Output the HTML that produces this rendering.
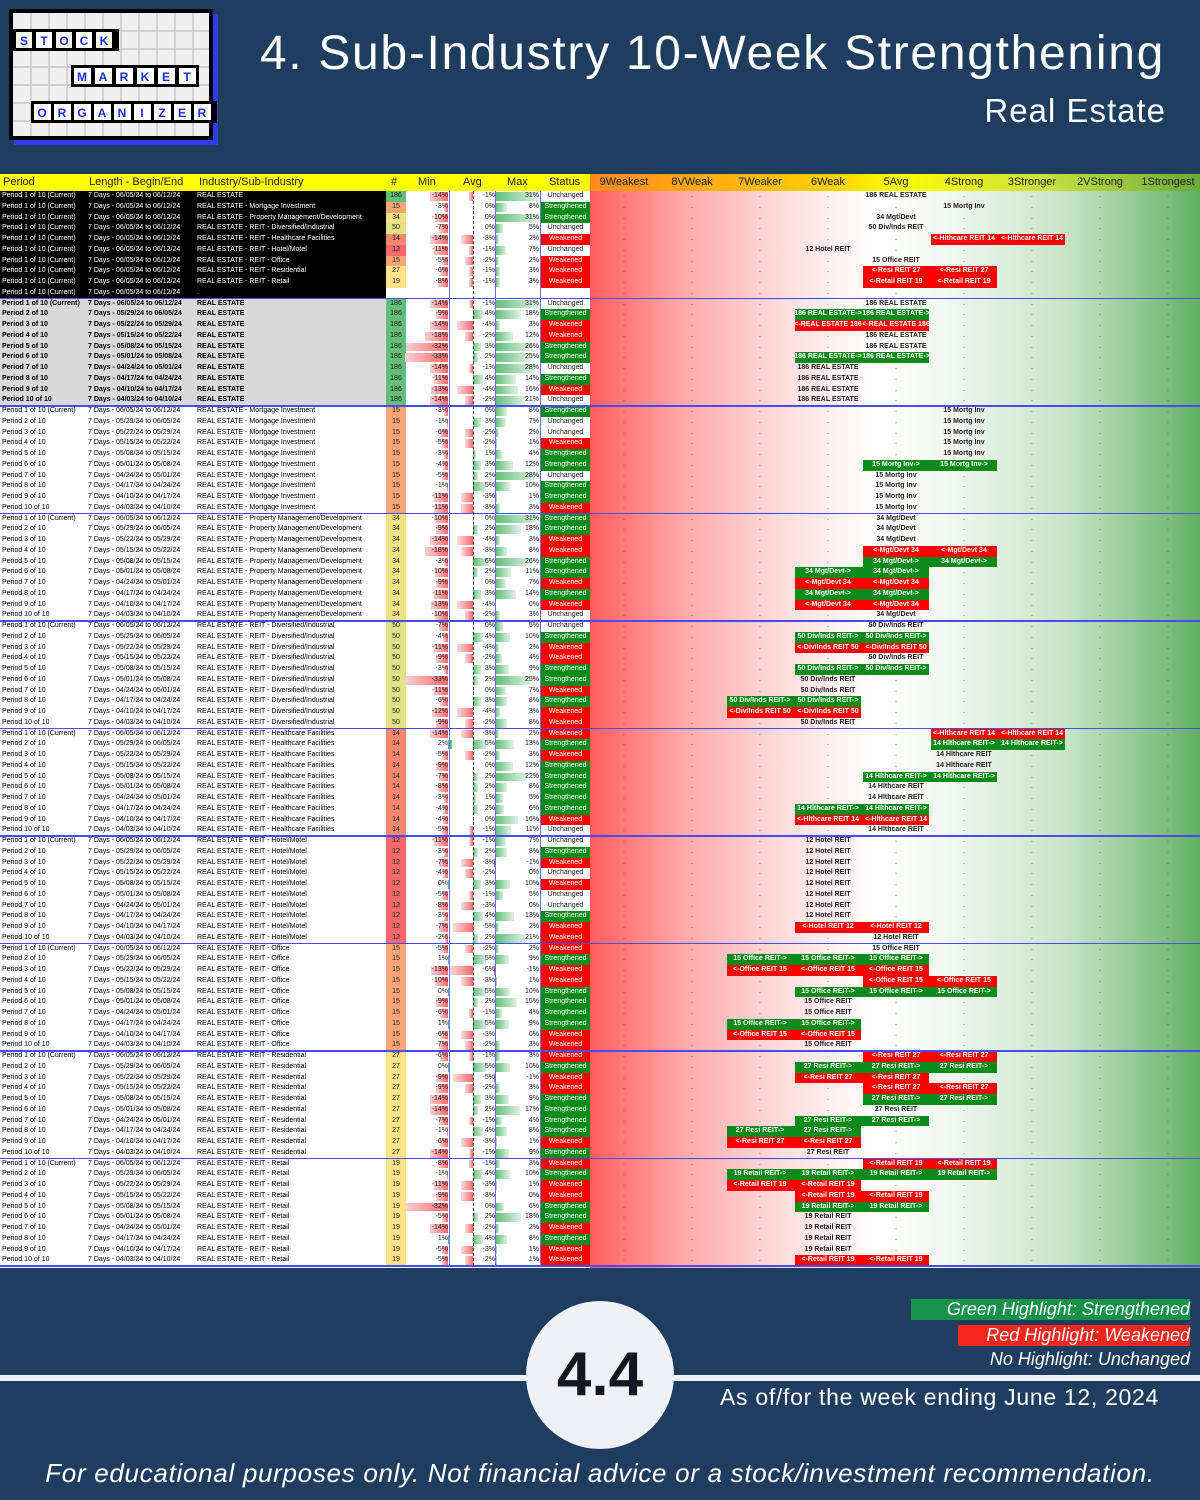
<!DOCTYPE html>
<html><head><meta charset="utf-8">
<style>
*{margin:0;padding:0;box-sizing:border-box}
body{width:1200px;height:1500px;background:#1f3d5e;position:relative;overflow:hidden;font-family:"Liberation Sans",sans-serif}
.abs{position:absolute}
#tbl{position:absolute;left:0;top:174px;width:1200px;height:1094px;background:#fff}
.c{position:absolute;font-size:7px;line-height:10.75px;white-space:nowrap;overflow:hidden}
.h{position:absolute;top:0;height:17px;line-height:17px;font-size:11px;color:#222}
</style></head><body>
<div class="abs" style="left:9px;top:9px;width:204px;height:131px;">
<svg width="215" height="140" viewBox="0 0 215 140" style="position:absolute;left:0;top:0">
<rect x="5" y="5" width="204" height="131" fill="#2f3cf0"/>
<rect x="0" y="0" width="204" height="131" fill="#000"/>
<rect x="4" y="4" width="196" height="123" fill="#f0f0f0"/>
<g stroke="#c8c8c8" stroke-width="1.5">
<line x1="4" y1="22" x2="200" y2="22"/><line x1="4" y1="40" x2="200" y2="40"/><line x1="4" y1="58" x2="200" y2="58"/><line x1="4" y1="76" x2="200" y2="76"/><line x1="4" y1="94" x2="200" y2="94"/><line x1="4" y1="112" x2="200" y2="112"/>
<line x1="22" y1="4" x2="22" y2="127"/><line x1="40" y1="4" x2="40" y2="127"/><line x1="58" y1="4" x2="58" y2="127"/><line x1="76" y1="4" x2="76" y2="127"/><line x1="94" y1="4" x2="94" y2="127"/><line x1="112" y1="4" x2="112" y2="127"/><line x1="130" y1="4" x2="130" y2="127"/><line x1="148" y1="4" x2="148" y2="127"/><line x1="166" y1="4" x2="166" y2="127"/><line x1="184" y1="4" x2="184" y2="127"/>
</g>
<rect x="4" y="20" width="106" height="22" fill="#000"/>
<rect x="62" y="56" width="128" height="22" fill="#000"/>
<rect x="22" y="92" width="186" height="22" fill="#000"/>
<g font-family="Liberation Sans" font-size="12" fill="#1a2fe0" text-anchor="middle" font-weight="bold">
<g fill="#fff"><rect x="7" y="23" width="16" height="16"/><rect x="27" y="23" width="16" height="16"/><rect x="47" y="23" width="16" height="16"/><rect x="67" y="23" width="16" height="16"/><rect x="87" y="23" width="16" height="16"/>
<rect x="65" y="59" width="17" height="16"/><rect x="86" y="59" width="17" height="16"/><rect x="107" y="59" width="17" height="16"/><rect x="128" y="59" width="17" height="16"/><rect x="149" y="59" width="17" height="16"/><rect x="170" y="59" width="17" height="16"/>
<rect x="25" y="95" width="17" height="16"/><rect x="45" y="95" width="17" height="16"/><rect x="65" y="95" width="17" height="16"/><rect x="85" y="95" width="17" height="16"/><rect x="105" y="95" width="17" height="16"/><rect x="125" y="95" width="17" height="16"/><rect x="145" y="95" width="17" height="16"/><rect x="165" y="95" width="17" height="16"/><rect x="185" y="95" width="17" height="16"/></g>
<text x="15" y="36">S</text><text x="35" y="36">T</text><text x="55" y="36">O</text><text x="75" y="36">C</text><text x="95" y="36">K</text>
<text x="73" y="72">M</text><text x="94" y="72">A</text><text x="115" y="72">R</text><text x="136" y="72">K</text><text x="157" y="72">E</text><text x="178" y="72">T</text>
<text x="33" y="108">O</text><text x="53" y="108">R</text><text x="73" y="108">G</text><text x="93" y="108">A</text><text x="113" y="108">N</text><text x="133" y="108">I</text><text x="153" y="108">Z</text><text x="173" y="108">E</text><text x="193" y="108">R</text>
</g></svg></div>
<div class="abs" style="right:35px;top:26px;font-size:48px;letter-spacing:1.7px;color:#fff;white-space:nowrap">4. Sub-Industry 10-Week Strengthening</div>
<div class="abs" style="right:34px;top:92px;font-size:33px;letter-spacing:1px;color:#fff;white-space:nowrap">Real Estate</div>

<div id="tbl">
 <div class="abs" style="left:0;top:0;width:590px;height:17px;background:#ffff00"></div>
 <div class="abs" style="left:590px;top:0;width:610px;height:17px;background:linear-gradient(to right,#ff8a1e,#ffd200 40%,#ffff00 50%,#c8e040 75%,#6aaa3a)"></div>
 <div class="abs" style="left:590px;top:17px;width:610px;height:1077px;background:linear-gradient(to right,#ff5e5e 0%,#ffa8a8 15%,#ffdede 32%,#fff 47%,#f2f8f2 58%,#c9e4c9 78%,#62b064 100%)"></div>
 <div class="h" style="left:3px">Period</div>
 <div class="h" style="left:89px">Length - Begin/End</div>
 <div class="h" style="left:199px">Industry/Sub-Industry</div>
 <div class="h" style="left:391px">#</div>
 <div class="h" style="left:418px">Min</div>
 <div class="h" style="left:463px">Avg</div>
 <div class="h" style="left:507px">Max</div>
 <div class="h" style="left:549px">Status</div>
</div>

<div class="abs" style="left:911px;top:1299px;width:279px;height:21px;background:#16924a;color:#fff;font-style:italic;font-size:18px;line-height:21px;text-align:right;white-space:nowrap">Green Highlight: Strengthened</div>
<div class="abs" style="left:958px;top:1325px;width:232px;height:21px;background:#f5261e;color:#fff;font-style:italic;font-size:18px;line-height:21px;text-align:right;white-space:nowrap">Red Highlight: Weakened</div>
<div class="abs" style="right:10px;top:1349px;color:#fff;font-style:italic;font-size:18px;line-height:21px;white-space:nowrap">No Highlight: Unchanged</div>
<div class="abs" style="left:0;top:1375px;width:1200px;height:6px;background:#eef2f7"></div>
<div class="abs" style="left:526px;top:1301px;width:148px;height:148px;border-radius:50%;background:#eef2f7;text-align:center;line-height:148px;font-size:62px;font-weight:bold;color:#111822">4.4</div>
<div class="abs" style="left:720px;top:1384px;font-size:23px;letter-spacing:0.7px;color:#fff;white-space:nowrap">As of/for the week ending June 12, 2024</div>
<div class="abs" style="left:0;width:1200px;top:1458px;font-size:26px;letter-spacing:0.7px;color:#fff;font-style:italic;text-align:center;white-space:nowrap">For educational purposes only. Not financial advice or a stock/investment recommendation.</div>

<script>
const groupNames = ['REAL ESTATE','REAL ESTATE - Mortgage Investment','REAL ESTATE - Property Management/Development','REAL ESTATE - REIT - Diversified/Industrial','REAL ESTATE - REIT - Healthcare Facilities','REAL ESTATE - REIT - Hotel/Motel','REAL ESTATE - REIT - Office','REAL ESTATE - REIT - Residential','REAL ESTATE - REIT - Retail'];
const shortNames = ['REAL ESTATE','Mortg Inv','Mgt/Devt','Div/Inds REIT','Hlthcare REIT','Hotel REIT','Office REIT','Resi REIT','Retail REIT'];
const counts = [186,15,34,50,14,12,15,27,19];
const countColors = ['#63be7b','#f9a474','#f2e286','#e3e288','#f8876f','#f8696b','#f9a474','#fde48a','#fee289'];
const periodEnds = ['06/12/24','06/05/24','05/29/24','05/22/24','05/15/24','05/08/24','05/01/24','04/24/24','04/17/24','04/10/24','04/03/24'];
const strengthCols = ['9Weakest','8VWeak','7Weaker','6Weak','5Avg','4Strong','3Stronger','2VStrong','1Strongest'];
const minVals = [
 [-14,-9,-14,-18,-32,-33,-14,-11,-13,-14],
 [-3,-1,-6,-5,-3,-4,-5,-1,-11,-11],
 [-10,-9,-14,-18,-3,-10,-9,-11,-13,-10],
 [-7,-4,-11,-9,-3,-33,-11,-6,-12,-9],
 [-14,2,-5,-9,-7,-8,-3,-4,-4,-5],
 [-11,-3,-7,-4,0,-5,-8,-3,-7,-2],
 [-5,1,-13,-10,0,-9,-6,1,-6,-7],
 [-6,0,-9,-9,-14,-14,-7,-1,-6,-14],
 [-8,-1,-11,-9,-32,-5,-14,1,-5,-5]];
const avgVals = [
 [-1,4,-4,-2,3,2,-1,4,-4,-2],
 [0,3,-2,-2,1,3,2,5,-3,-3],
 [0,2,-4,-3,6,2,0,3,-4,-2],
 [0,4,-4,-2,3,2,0,3,-4,-2],
 [-3,5,-2,0,2,2,1,2,0,-1],
 [-1,2,-3,-2,3,-1,-3,4,-5,2],
 [-2,5,-6,-3,5,2,-1,5,-3,-2],
 [-1,5,-5,-2,3,2,-1,4,-3,-1],
 [-1,4,-3,-3,0,2,-2,4,-3,-2]];
const maxVals = [
 [31,18,3,12,26,25,28,14,16,21],
 [8,7,2,1,4,12,28,10,1,3],
 [31,18,3,8,26,11,7,14,0,3],
 [5,10,2,4,9,25,7,8,3,8],
 [2,13,3,12,22,8,5,6,16,11],
 [7,8,-1,0,10,5,0,13,2,21],
 [2,9,-1,1,10,15,4,9,0,3],
 [3,10,-1,3,9,17,4,8,1,9],
 [3,10,1,0,6,18,2,8,1,1]];
const statuses = [
 'USWWSSUSWU','SUUWSSUSSW','SSWWSSWSWU','USWWSSWSWW','WSWSSSSSWU','USWUWUUSWW','WSWWSSSSWW','WSWWSSSSWS','WSWWSSWSWW'];
const rankSpecs = [
 ['4','g3-4','r3-4','4','4','g3-4','3','3','3','3'],
 ['5','5','5','5','5','g4-5','4','4','4','4'],
 ['4','4','4','r4-5','g4-5','g3-4','r3-4','g3-4','r3-4','4'],
 ['4','g3-4','r3-4','4','g3-4','3','3','g2-3','r2-3','3'],
 ['r5-6','g5-6','5','5','g4-5','4','4','g3-4','r3-4','4'],
 ['3','3','3','3','3','3','3','3','r3-4','4'],
 ['4','g2-4','r2-4','r4-5','g3-5','3','3','g2-3','r2-3','3'],
 ['r4-5','g3-5','r3-4','r4-5','g4-5','4','g3-4','g2-3','r2-3','3'],
 ['r4-5','g2-5','r2-3','r3-4','g3-4','3','3','3','3','r3-4']];

const tbl = document.getElementById('tbl');
const Y0 = 17, RH = 10.75;
const colX = [590,658,726,794,862,930,998,1066,1134];
const CW = 68;
function xMin(v){ return 448 - Math.abs(v)*1.3; }
function avgLen(v){ return Math.abs(v)*(v<0?4:2.6); }
function maxLen(v){ return Math.abs(v)*1.4; }

strengthCols.forEach((t,i)=>{
 const d=document.createElement('div');
 d.className='h';
 d.style.left=colX[i]+'px'; d.style.width=CW+'px'; d.style.textAlign='center';
 d.textContent=t;
 
 
 tbl.appendChild(d);
});

function cell(row, x, w, text, css, name){
 const d=document.createElement('div');
 d.className='c';
 d.style.left=x+'px'; d.style.top=(Y0+row*RH)+'px'; d.style.width=w+'px'; d.style.height=RH+'px';
 if(css) d.style.cssText+=css;
 d.textContent=text;
 
 
 tbl.appendChild(d);
 return d;
}
function bar(row,x,w,bg,name){
 const d=document.createElement('div');
 d.className='abs';
 d.style.left=x+'px'; d.style.top=(Y0+row*RH+1)+'px'; d.style.width=Math.max(w,1)+'px'; d.style.height=(RH-2)+'px'; d.style.background=bg;
 
 
 tbl.appendChild(d);
}

function drawRow(row, g, p, mode){
 const leftBg = mode==='sum' ? '#000' : (mode==='re' ? '#d9d9d9' : '#fff');
 const col = mode==='sum' ? '#fff' : '#000';
 const fw = mode==='re' ? 'bold' : 'normal';
 cell(row,0,386,'', 'background:'+leftBg, 'row-bg');
 let ptxt = mode==='sum' ? 'Period 1 of 10 (Current)' : ('Period '+(p+1)+' of 10'+(p===0?' (Current)':''));
 const st='color:'+col+';font-weight:'+fw+';';
 cell(row,2,86,ptxt,st,'period-label');
 if(g<0){
  cell(row,88,108,'7 Days - 06/05/24 to 06/12/24',st,'length-label');
  cell(row,197,188,'.',st,'industry-label');
  cell(row,386,204,'',"background:#fff",'empty-values');
  for(let c=0;c<9;c++){
   cell(row,colX[c],CW,'.','text-align:center;color:#333','rank-dot');
  }
  return;
 }
 cell(row,88,108,'7 Days - '+periodEnds[p+1]+' to '+periodEnds[p],st,'length-label');
 cell(row,197,188,groupNames[g],st,'industry-label');
 cell(row,386,20,String(counts[g]),'background:'+countColors[g]+';text-align:center;color:#222','count-cell');
 cell(row,406,134,'','background:#fff','values-bg');
 const mn=minVals[g][p], av=avgVals[g][p], mx=maxVals[g][p], s=statuses[g][p];
 if(mn<0) bar(row,xMin(mn),448-xMin(mn),'linear-gradient(to left,#f8696b,#fcd0d0)','min-bar');
 else bar(row,448,mn*1.3+1,'#63be7b','min-bar');
 if(av<0) bar(row,473-avgLen(av),avgLen(av),'linear-gradient(to left,#f8696b,#fdd)','avg-bar');
 else if(av>0) bar(row,473,avgLen(av),'linear-gradient(to right,#63be7b,#d6efdc)','avg-bar');
 if(mx>0) bar(row,496,maxLen(mx),'linear-gradient(to right,#63be7b,#e0f2e4)','max-bar');
 else if(mx<0) bar(row,494,2,'#f8696b','max-bar');
 cell(row,406,42,mn+'%','text-align:right;color:#222','min-value');
 cell(row,452,43,av+'%','text-align:right;color:#222','avg-value');
 cell(row,498,41,mx+'%','text-align:right;color:#222','max-value');
 const sb = s==='S'?'#0c8a1a':(s==='W'?'#ff0000':'#fff');
 const sc = s==='U'?'#222':'#fff';
 const sn = s==='S'?'Strengthened':(s==='W'?'Weakened':'Unchanged');
 cell(row,541,49,sn,'background:'+sb+';color:'+sc+';text-align:center','status-cell');
 const spec=rankSpecs[g][p];
 const nm=shortNames[g], n=counts[g];
 let a,b,type='n';
 if(spec[0]==='g'||spec[0]==='r'){type=spec[0];const pr=spec.slice(1).split('-');a=+pr[0];b=+pr[1];}
 else {a=b=+spec;}
 for(let c=0;c<9;c++){
  if(c>=a&&c<=b) continue;
  cell(row,colX[c],CW,'.','text-align:center;color:#333','rank-dot');
 }
 if(type==='n'){
  cell(row,colX[a],CW,n+' '+nm,'text-align:center;color:#222;font-weight:bold;overflow:visible','rank-label');
 } else {
  const bg=type==='g'?'#0c8a1a':'#ff0000';
  cell(row,colX[a]+1,(b-a+1)*CW-2,'','background:'+bg,'rank-move-box');
  for(let c=a;c<=b;c++){
   const t=type==='g'? (n+' '+nm+'->') : ('<-'+nm+' '+n);
   cell(row,colX[c],CW,t,'text-align:center;color:#fff;font-weight:bold','rank-move-label');
  }
 }
}

let row=0;
for(let g=0;g<9;g++){ drawRow(row++,g,0,'sum'); }
drawRow(row++,-1,0,'sum');
for(let g=0;g<9;g++){
 for(let p=0;p<10;p++){ drawRow(row++,g,p,g===0?'re':'norm'); }
}
for(let k=1;k<=10;k++){
 const d=document.createElement('div');
 d.className='abs';
 d.style.left='0px'; d.style.top=(Y0+k*10*RH-1)+'px'; d.style.width='1200px'; d.style.height='1.5px'; d.style.background='#4a4af0';
 
 
 tbl.appendChild(d);
}
[449,495,540].forEach(x=>{
 const d=document.createElement('div');
 d.className='abs';
 d.style.left=x+'px'; d.style.top=Y0+'px'; d.style.width='1px'; d.style.height=(100*RH)+'px'; d.style.background='#6b6bf5';
 
 
 tbl.appendChild(d);
});
const ax=document.createElement('div');
ax.className='abs';
ax.style.left='473px'; ax.style.top=Y0+'px'; ax.style.width='0'; ax.style.height=(100*RH)+'px'; ax.style.borderLeft='1px dashed #333';


tbl.appendChild(ax);
</script>
</body></html>
